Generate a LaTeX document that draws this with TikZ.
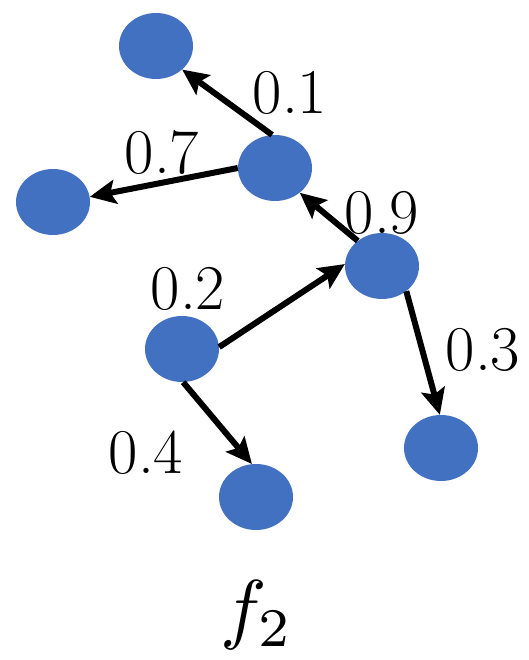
\documentclass[tikz,border=0pt]{standalone}
\usetikzlibrary{shapes.geometric,arrows.meta}
\definecolor{nodeblue}{RGB}{66,113,194}
\begin{document}
\begin{tikzpicture}[x=1bp,y=-1bp,
  vert/.style={ellipse,fill=nodeblue,draw=none,minimum width=74bp,minimum height=66bp,inner sep=0pt},
  edge/.style={line width=6bp,-{Stealth[length=26bp,width=24bp,inset=5bp]},shorten >=0bp},
  wlabel/.style={font=\fontsize{64}{76}\selectfont,inner sep=0pt}]
\useasboundingbox (0,0) rectangle (529,660);
\fill[white] (0,0) rectangle (529,660);
\node[vert] (a) at (156,46) {};
\node[vert] (b) at (275,168) {};
\node[vert] (c) at (53,202) {};
\node[vert] (d) at (382,266) {};
\node[vert] (e) at (182,349) {};
\node[vert] (f) at (441,448) {};
\node[vert] (g) at (256,497) {};
\draw[edge] (b.95) -- (a.-42);
\draw[edge] (b.180) -- (c.8);
\draw[edge] (d.134) -- (b.-45);
\draw[edge] (e.3) -- (d.177);
\draw[edge] (d.-46) -- (f.92);
\draw[edge] (e.-88) -- (g.97);
\node[wlabel] (l1) at (290,93) {0.1};
\node[wlabel] (l7) at (162,152) {0.7};
\node[wlabel] (l9) at (382,213) {0.9};
\node[wlabel] (l2) at (188,289) {0.2};
\node[wlabel] (l3) at (483,350) {0.3};
\node[wlabel] (l4) at (146,453) {0.4};
\node[inner sep=0pt] (title) at (257,615) {\scalebox{7.8}{$f_2$}};
\end{tikzpicture}
\end{document}
